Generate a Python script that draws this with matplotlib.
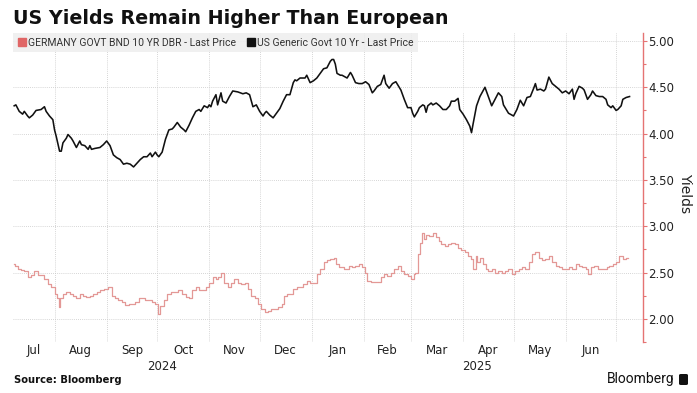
import numpy as np
import pandas as pd
import matplotlib
matplotlib.use('Agg')
import matplotlib.pyplot as plt
import matplotlib.dates as mdates
from matplotlib.patches import FancyBboxPatch, Rectangle
from matplotlib.lines import Line2D

title = "US Yields Remain Higher Than European"
source = "Source: Bloomberg"
brand = "Bloomberg"
y_label = "Yields"
de_label = "GERMANY GOVT BND 10 YR DBR - Last Price"
us_label = "US Generic Govt 10 Yr - Last Price"

base_date = "2024-07-01"  # days below are counted from this date
x_start = "2024-07-07 07:00"
x_end = "2025-07-17"
y_ticks = [2.0, 2.5, 3.0, 3.5, 4.0, 4.5, 5.0]

us_days = [7, 8, 10, 12, 13, 15, 16, 18, 20, 23, 25, 26, 28, 30, 31, 32, 34, 35, 36, 38,
           39, 41, 42, 44, 46, 47, 49, 51, 52, 53, 55, 58, 60, 62, 64, 66, 68, 70, 72, 74,
           76, 78, 80, 82, 84, 86, 88, 89, 91, 92, 93, 95, 97, 99, 101, 102, 104, 106, 108, 109,
           111, 113, 115, 117, 118, 120, 122, 123, 124, 125, 127, 128, 130, 131, 133, 135, 137, 140, 143, 145,
           147, 149, 151, 153, 155, 156, 157, 159, 161, 163, 165, 167, 169, 171, 173, 174, 175, 177, 180, 181,
           183, 185, 187, 189, 191, 193, 195, 196, 197, 198, 199, 201, 202, 204, 205, 207, 208, 210, 212, 214,
           216, 218, 220, 221, 223, 225, 227, 228, 230, 232, 234, 235, 237, 239, 241, 243, 244, 245, 247, 248,
           250, 251, 252, 253, 255, 256, 258, 260, 262, 264, 266, 267, 269, 271, 272, 274, 276, 278, 279, 280,
           282, 284, 287, 289, 291, 293, 295, 297, 298, 301, 304, 306, 308, 310, 312, 314, 316, 317, 318, 320,
           322, 323, 325, 327, 329, 331, 333, 335, 337, 339, 340, 341, 343, 345, 346, 348, 350, 351, 353, 355,
           357, 359, 360, 362, 363, 365, 366, 368, 369, 371, 373]
us_vals = [4.30, 4.31, 4.24, 4.21, 4.24, 4.19, 4.17, 4.20, 4.25, 4.26, 4.29, 4.24, 4.19, 4.15, 4.04, 3.97, 3.81, 3.81, 3.90, 3.95,
           3.99, 3.95, 3.92, 3.85, 3.92, 3.88, 3.87, 3.83, 3.87, 3.83, 3.84, 3.85, 3.88, 3.92, 3.87, 3.77, 3.74, 3.72, 3.67, 3.68,
           3.67, 3.64, 3.68, 3.72, 3.75, 3.75, 3.79, 3.75, 3.80, 3.77, 3.75, 3.80, 3.94, 4.04, 4.05, 4.07, 4.12, 4.07, 4.04, 4.02,
           4.09, 4.17, 4.24, 4.26, 4.24, 4.30, 4.28, 4.31, 4.29, 4.35, 4.42, 4.31, 4.44, 4.35, 4.33, 4.40, 4.46, 4.45, 4.43, 4.44,
           4.42, 4.29, 4.31, 4.24, 4.19, 4.22, 4.24, 4.20, 4.17, 4.22, 4.27, 4.35, 4.42, 4.42, 4.55, 4.58, 4.57, 4.60, 4.60, 4.63,
           4.55, 4.57, 4.60, 4.65, 4.70, 4.71, 4.78, 4.80, 4.80, 4.75, 4.65, 4.63, 4.63, 4.61, 4.60, 4.66, 4.63, 4.55, 4.54, 4.54,
           4.56, 4.53, 4.44, 4.46, 4.51, 4.53, 4.63, 4.54, 4.49, 4.54, 4.56, 4.53, 4.47, 4.37, 4.28, 4.28, 4.22, 4.18, 4.24, 4.28,
           4.31, 4.30, 4.23, 4.30, 4.33, 4.31, 4.33, 4.30, 4.26, 4.26, 4.30, 4.35, 4.35, 4.38, 4.26, 4.21, 4.15, 4.08, 4.01, 4.11,
           4.30, 4.40, 4.50, 4.40, 4.30, 4.37, 4.44, 4.40, 4.31, 4.22, 4.19, 4.26, 4.36, 4.30, 4.39, 4.40, 4.49, 4.54, 4.47, 4.48,
           4.46, 4.48, 4.61, 4.54, 4.51, 4.48, 4.44, 4.46, 4.43, 4.48, 4.37, 4.43, 4.51, 4.49, 4.47, 4.37, 4.42, 4.46, 4.41, 4.40,
           4.40, 4.37, 4.31, 4.28, 4.30, 4.25, 4.26, 4.30, 4.37, 4.39, 4.40]

de_days = [7, 8, 10, 12, 14, 16, 18, 20, 22, 24, 26, 28, 30, 32, 33, 34, 35, 37, 39, 41,
           43, 45, 47, 49, 51, 53, 55, 57, 59, 62, 64, 66, 68, 70, 72, 74, 76, 78, 80, 82,
           84, 86, 88, 90, 92, 93, 95, 97, 99, 101, 103, 106, 108, 110, 112, 114, 116, 118, 120, 122,
           124, 126, 128, 129, 131, 133, 135, 137, 139, 141, 143, 145, 147, 149, 151, 153, 155, 157, 159, 161,
           163, 165, 167, 168, 170, 172, 174, 177, 180, 182, 184, 186, 188, 190, 192, 194, 196, 198, 199, 201,
           205, 207, 209, 211, 213, 215, 216, 218, 220, 222, 224, 226, 228, 230, 232, 234, 236, 238, 240, 242,
           244, 245, 246, 248, 249, 250, 251, 253, 255, 257, 259, 260, 262, 264, 266, 268, 270, 272, 274, 276,
           278, 279, 281, 282, 283, 285, 287, 288, 290, 292, 294, 296, 298, 300, 302, 304, 306, 308, 310, 312,
           314, 316, 318, 320, 322, 324, 326, 328, 330, 332, 334, 336, 338, 340, 342, 344, 346, 348, 349, 351,
           353, 355, 357, 359, 360, 362, 364, 366, 368, 370, 372]
de_vals = [2.59, 2.57, 2.54, 2.53, 2.52, 2.45, 2.47, 2.52, 2.47, 2.47, 2.43, 2.38, 2.34, 2.27, 2.22, 2.13, 2.22, 2.27, 2.29, 2.27,
           2.25, 2.22, 2.27, 2.25, 2.24, 2.25, 2.27, 2.29, 2.31, 2.32, 2.34, 2.25, 2.22, 2.20, 2.18, 2.15, 2.16, 2.16, 2.18, 2.22,
           2.22, 2.20, 2.20, 2.18, 2.16, 2.05, 2.14, 2.20, 2.27, 2.29, 2.29, 2.31, 2.27, 2.24, 2.22, 2.31, 2.34, 2.31, 2.31, 2.34,
           2.39, 2.45, 2.43, 2.45, 2.50, 2.39, 2.34, 2.39, 2.43, 2.39, 2.38, 2.39, 2.32, 2.25, 2.22, 2.16, 2.11, 2.07, 2.09, 2.11,
           2.11, 2.13, 2.16, 2.25, 2.27, 2.27, 2.32, 2.34, 2.38, 2.41, 2.39, 2.39, 2.48, 2.54, 2.61, 2.63, 2.65, 2.66, 2.59, 2.56,
           2.54, 2.57, 2.56, 2.57, 2.59, 2.56, 2.50, 2.41, 2.40, 2.40, 2.40, 2.45, 2.48, 2.46, 2.50, 2.54, 2.57, 2.52, 2.48, 2.46,
           2.43, 2.48, 2.50, 2.70, 2.82, 2.93, 2.86, 2.91, 2.89, 2.93, 2.88, 2.84, 2.81, 2.79, 2.81, 2.82, 2.81, 2.77, 2.74, 2.72,
           2.68, 2.65, 2.54, 2.68, 2.61, 2.66, 2.59, 2.54, 2.52, 2.54, 2.50, 2.52, 2.50, 2.52, 2.54, 2.48, 2.52, 2.54, 2.56, 2.54,
           2.61, 2.70, 2.72, 2.66, 2.63, 2.65, 2.68, 2.61, 2.57, 2.56, 2.54, 2.54, 2.56, 2.54, 2.59, 2.57, 2.56, 2.54, 2.48, 2.56,
           2.57, 2.54, 2.54, 2.54, 2.56, 2.57, 2.59, 2.61, 2.68, 2.65, 2.66]

base = pd.Timestamp(base_date)
us_dates = base + pd.to_timedelta(us_days, unit='D')
de_dates = base + pd.to_timedelta(de_days, unit='D')
xs, xe = pd.Timestamp(x_start), pd.Timestamp(x_end)

W, H = 697, 393
fig = plt.figure(figsize=(W / 100, H / 100), dpi=100)
ax = fig.add_axes([13 / W, 1 - 342 / H, (643 - 13) / W, (342 - 33) / H])

de_color = '#e39896'
us_color = '#111111'
axis_red = '#e57373'

ax.step(de_dates, de_vals, where='mid', color=de_color, lw=0.9, zorder=3)
ax.plot(us_dates, us_vals, color=us_color, lw=1.15, zorder=4)

ax.set_xlim(xs, xe)
ax.set_ylim(1.763, 5.086)

# y axis on right
ax.yaxis.tick_right()
ax.set_yticks(y_ticks)
ax.set_yticklabels([f"{v:.2f}" for v in y_ticks], fontsize=8.5, color='#222222')
ax.set_yticks(np.arange(1.75, 5.01, 0.25), minor=True)
ax.tick_params(axis='y', which='major', length=3, color=axis_red, width=0.8, pad=1)
ax.tick_params(axis='y', which='minor', length=2, color=axis_red, width=0.8)
fig.text(685 / W, 1 - 193 / H, y_label, rotation=270, fontsize=10, color='#222222',
         ha='center', va='center')

# x axis: gridlines at month starts, labels at visible-month centres
month_starts = pd.date_range('2024-07-01', '2025-08-01', freq='MS')
ax.set_xticks(month_starts[(month_starts > xs) & (month_starts < xe)])
ax.set_xticklabels([])
ax.tick_params(axis='x', length=0)
for i in range(len(month_starts) - 1):
    a, b = max(month_starts[i], xs), min(month_starts[i + 1], xe)
    if (b - a).days >= 20:
        c = a + (b - a) / 2
        ax.text(c, -0.026, month_starts[i].strftime('%b'), transform=ax.get_xaxis_transform(),
                ha='center', va='center', fontsize=8.5, color='#222222')
for yr in [2024, 2025]:
    a = max(pd.Timestamp(f'{yr}-01-01'), xs)
    b = min(pd.Timestamp(f'{yr + 1}-01-01'), xe)
    c = a + (b - a) / 2
    ax.text(c, -0.078, str(yr), transform=ax.get_xaxis_transform(),
            ha='center', va='center', fontsize=8.5, color='#222222')

ax.grid(True, which='major', color='#c8c8c8', lw=0.6, linestyle=(0, (1, 1.5)))
for s in ['top', 'left', 'bottom']:
    ax.spines[s].set_visible(False)
ax.spines['right'].set_color(axis_red)
ax.spines['right'].set_linewidth(1.0)

handles = [Line2D([], [], marker='s', linestyle='none', markersize=5.5, color='#e06666'),
           Line2D([], [], marker='s', linestyle='none', markersize=5.5, color='#111111')]
leg = ax.legend(handles, [de_label, us_label], loc='upper left', bbox_to_anchor=(0, 1.0),
                ncol=2, frameon=True, fancybox=False, framealpha=0.85, facecolor='#eeeeee',
                edgecolor='none', handlelength=0.8, handletextpad=0.2,
                columnspacing=1.0, borderpad=0.45, borderaxespad=0,
                prop={'family': 'Roboto', 'size': 7.5})
for t in leg.get_texts():
    t.set_color('#333333')
leg.set_zorder(2)

fig.text(13 / W, 1 - 18 / H, title, fontsize=13.7, fontweight='bold', family='DejaVu Sans',
         ha='left', va='center', color='#111111')
fig.text(14 / W, 1 - 380 / H, source, fontsize=7.2, fontweight='bold', family='DejaVu Sans',
         ha='left', va='center', color='#111111')
fig.text(675 / W, 1 - 379 / H, brand, fontsize=10, family='Roboto',
         ha='right', va='center', color='#111111')
icon = FancyBboxPatch((679 / W, 1 - 385 / H), 9 / W, 11 / H, boxstyle='round,pad=0,rounding_size=0.003',
                      transform=fig.transFigure, facecolor='#111111', edgecolor='none')
fig.patches.append(icon)

fig.savefig('out.png', dpi=100)
